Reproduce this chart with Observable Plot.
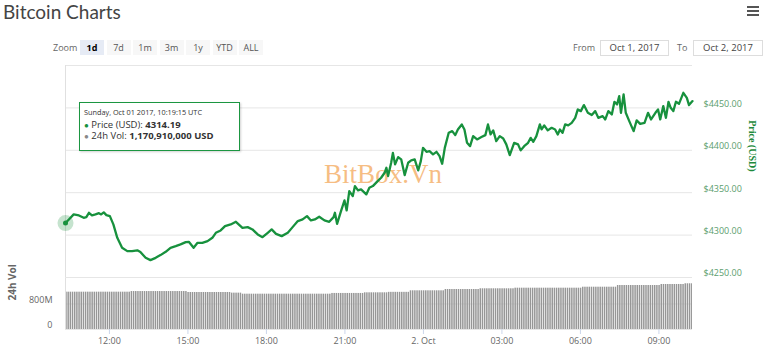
<!DOCTYPE html>
<html><head><meta charset="utf-8">
<script src="https://cdn.jsdelivr.net/npm/d3@7"></script>
<script src="https://cdn.jsdelivr.net/npm/@observablehq/plot@0.6"></script>
<style>
html,body{margin:0;padding:0;background:#fff;}
#wrap{position:relative;width:768px;height:348px;overflow:hidden;font-family:"Open Sans",sans-serif;}
.abs{position:absolute;}
#title{left:3px;top:0px;font-family:Lato,sans-serif;font-size:19px;line-height:normal;color:#444;white-space:nowrap;}
.bar{position:absolute;left:747px;width:12px;height:2px;background:#555;}
.zbtn{position:absolute;top:40px;width:24px;height:15px;line-height:15px;text-align:center;font-size:9px;color:#555;background:#f7f7f7;}
.zbtn.sel{background:#e6ebf5;color:#000;font-weight:bold;}
.lbl{position:absolute;top:40px;height:15px;line-height:15px;font-size:9px;color:#666;}
.dbox{position:absolute;top:40px;height:14px;line-height:14px;border:1px solid #ddd;font-size:9.5px;color:#444;text-align:center;background:#fff;}
#tip{position:absolute;left:79px;top:102px;width:155px;height:43px;border:1px solid #1b9641;background:#fff;box-shadow:1px 1px 2px rgba(0,0,0,0.18);padding:4px 0 0 4px;box-sizing:content-box;}
#tip div{white-space:nowrap;line-height:11.5px;color:#333;}
#tip .h{font-size:7.3px;}
#tip .r{font-size:9.5px;}
#price,#vol{position:absolute;left:0;}
#price{top:55px;}
#vol{top:277px;}
</style></head><body>
<div id="wrap">
  <div id="title" class="abs">Bitcoin Charts</div>
  <div class="bar" style="top:6px"></div><div class="bar" style="top:10px"></div><div class="bar" style="top:14px"></div>
  <div class="lbl" style="left:53px">Zoom</div>
  <div id="zooms"></div>
  <div class="lbl" style="left:573px">From</div>
  <div class="dbox" id="dFrom" style="left:600px;width:67px"></div>
  <div class="lbl" style="left:677px">To</div>
  <div class="dbox" id="dTo" style="left:693px;width:68px"></div>
  <div id="vol"></div>
  <div id="price"></div>
  <div id="tip"></div>
</div>
<script>
// ---------- data ----------
const priceTimes = [
"10-01 10:19:15","10-01 10:27","10-01 10:38","10-01 10:50","10-01 11:01","10-01 11:07","10-01 11:13","10-01 11:20","10-01 11:28","10-01 11:36",
"10-01 11:41","10-01 11:47","10-01 11:53","10-01 12:01","10-01 12:09","10-01 12:18","10-01 12:29","10-01 12:41","10-01 12:52","10-01 13:04",
"10-01 13:11","10-01 13:23","10-01 13:34","10-01 13:46","10-01 13:57","10-01 14:09","10-01 14:20","10-01 14:32","10-01 14:43","10-01 14:55",
"10-01 15:02","10-01 15:13","10-01 15:22","10-01 15:33","10-01 15:45","10-01 15:56","10-01 16:04","10-01 16:15","10-01 16:25","10-01 16:38",
"10-01 16:50","10-01 17:05","10-01 17:17","10-01 17:28","10-01 17:40","10-01 17:51","10-01 18:03","10-01 18:12","10-01 18:22","10-01 18:35",
"10-01 18:49","10-01 19:00","10-01 19:12","10-01 19:23","10-01 19:33","10-01 19:42","10-01 19:51","10-01 20:01","10-01 20:13","10-01 20:24",
"10-01 20:34","10-01 20:37","10-01 20:42","10-01 20:51","10-01 20:59","10-01 21:04","10-01 21:10","10-01 21:18","10-01 21:23","10-01 21:30",
"10-01 21:37","10-01 21:49","10-01 21:56","10-01 22:04","10-01 22:15","10-01 22:23","10-01 22:31","10-01 22:35","10-01 22:39","10-01 22:46",
"10-01 22:50","10-01 22:55","10-01 23:02","10-01 23:09","10-01 23:17","10-01 23:25","10-01 23:32","10-01 23:40","10-01 23:48","10-01 23:54",
"10-01 23:59","10-02 00:07","10-02 00:14","10-02 00:22","10-02 00:30","10-02 00:37","10-02 00:43","10-02 00:49","10-02 00:58","10-02 01:06",
"10-02 01:13","10-02 01:19","10-02 01:28","10-02 01:34","10-02 01:40","10-02 01:47","10-02 01:54","10-02 02:03","10-02 02:13","10-02 02:22",
"10-02 02:28","10-02 02:34","10-02 02:40","10-02 02:47","10-02 02:55","10-02 03:03","10-02 03:10","10-02 03:18","10-02 03:28","10-02 03:37",
"10-02 03:43","10-02 03:51","10-02 04:00","10-02 04:06","10-02 04:12","10-02 04:19","10-02 04:27","10-02 04:31","10-02 04:37","10-02 04:45",
"10-02 04:54","10-02 05:02","10-02 05:08","10-02 05:13","10-02 05:19","10-02 05:25","10-02 05:32","10-02 05:40","10-02 05:48","10-02 05:54",
"10-02 06:01","10-02 06:08","10-02 06:17","10-02 06:26","10-02 06:34","10-02 06:41","10-02 06:51","10-02 06:57","10-02 07:04","10-02 07:12",
"10-02 07:18","10-02 07:24","10-02 07:29","10-02 07:33","10-02 07:39","10-02 07:44","10-02 07:52","10-02 08:02","10-02 08:09","10-02 08:17",
"10-02 08:27","10-02 08:35","10-02 08:42","10-02 08:52","10-02 08:58","10-02 09:03","10-02 09:10","10-02 09:16","10-02 09:22","10-02 09:27",
"10-02 09:33","10-02 09:39","10-02 09:46","10-02 09:56","10-02 10:04","10-02 10:09","10-02 10:17"
];
const prices = [
4314.19,4318.5,4324.4,4323.2,4320.4,4321.2,4326.3,4323.2,4324.4,4325.9,
4324.4,4326.8,4323.6,4322.4,4312.6,4296.8,4285.0,4281.1,4281.1,4282.0,
4280.0,4273.2,4270.5,4273.2,4276.4,4280.3,4285.0,4287.0,4289.0,4291.7,
4292.1,4285.0,4290.9,4290.9,4292.9,4296.8,4302.7,4305.5,4310.6,4312.6,
4315.7,4308.6,4309.4,4306.7,4300.8,4297.6,4302.7,4306.7,4301.5,4298.8,
4302.7,4309.4,4316.5,4318.5,4322.4,4317.3,4318.5,4321.6,4317.3,4315.7,
4321.2,4326.3,4313.3,4328.3,4340.9,4329.1,4351.9,4346.0,4357.8,4352.7,
4353.9,4348.0,4355.8,4357.8,4363.7,4367.6,4373.5,4379.4,4369.6,4385.3,
4397.0,4383.4,4392.0,4389.3,4370.8,4385.3,4388.1,4389.3,4376.3,4387.3,
4402.9,4398.2,4399.0,4395.2,4398.2,4393.2,4384.1,4402.9,4420.6,4422.6,
4417.9,4424.6,4430.5,4424.6,4408.8,4404.9,4416.7,4412.8,4415.6,4417.9,
4430.5,4418.7,4423.5,4410.8,4416.7,4414.0,4407.0,4394.3,4408.8,4407.0,
4399.9,4404.9,4408.8,4414.7,4410.0,4416.7,4430.5,4424.6,4429.4,4423.5,
4426.5,4424.6,4418.7,4424.6,4420.6,4430.5,4429.4,4432.4,4438.3,4448.2,
4446.2,4453.3,4444.2,4441.5,4446.2,4438.3,4440.3,4436.4,4446.2,4442.3,
4457.2,4454.1,4463.9,4444.2,4465.9,4444.2,4434.4,4422.6,4435.3,4431.2,
4432.4,4444.2,4436.4,4444.2,4448.2,4436.4,4452.1,4438.3,4457.2,4450.1,
4446.2,4457.2,4454.8,4467.8,4461.9,4453.3,4458.0
];
// 24h volume, millions USD, one bar every 5 minutes from volStart
const volStart = "10-01 10:19";
const volStepMinutes = 5;
const volumesM = [
1170.91,1170,1170,1170,1170,1170,1170,1170,1170,1170,1170,1170,
1170,1170,1170,1170,1170,1170,1170,1170,1170,1170,1170,1170,
1170,1170,1170,1170,1170,1170,1190,1190,1190,1190,1190,1190,
1190,1190,1190,1190,1190,1190,1190,1190,1190,1190,1190,1190,
1190,1190,1190,1190,1190,1190,1190,1190,1160,1160,1160,1160,
1160,1160,1160,1160,1160,1160,1160,1160,1160,1160,1160,1160,
1160,1160,1160,1160,1140,1140,1140,1140,1140,1107,1107,1107,
1107,1107,1107,1107,1107,1107,1107,1107,1107,1107,1107,1107,
1107,1107,1107,1107,1107,1107,1107,1107,1107,1107,1107,1107,
1107,1107,1107,1107,1107,1107,1107,1107,1107,1107,1107,1107,
1107,1107,1130,1130,1130,1130,1130,1130,1130,1130,1130,1130,
1130,1130,1130,1130,1130,1150,1150,1150,1150,1150,1150,1150,
1150,1150,1150,1150,1165,1165,1165,1165,1165,1165,1165,1165,
1165,1165,1213,1213,1213,1213,1213,1213,1213,1213,1213,1213,
1213,1213,1213,1213,1213,1213,1254,1254,1254,1254,1254,1254,
1254,1254,1254,1254,1254,1254,1254,1254,1254,1254,1276,1276,
1276,1276,1276,1276,1276,1276,1276,1276,1276,1276,1276,1276,
1276,1276,1295,1295,1295,1295,1295,1295,1295,1295,1295,1295,
1295,1295,1295,1295,1295,1295,1295,1295,1295,1295,1295,1295,
1295,1295,1295,1295,1295,1295,1295,1295,1295,1326,1326,1326,
1326,1326,1326,1326,1326,1326,1326,1326,1326,1326,1326,1326,
1326,1379,1379,1379,1379,1379,1379,1379,1379,1379,1379,1379,
1379,1379,1379,1379,1379,1379,1379,1379,1379,1411,1411,1411,
1411,1411,1411,1411,1411,1411,1411,1411,1433,1433,1433,1433
];
const domainEnd = "10-02 10:17";
const priceTicks = [4250, 4300, 4350, 4400, 4450];
const priceGrid = [4250, 4300, 4350, 4400, 4450, 4500];
const volTicksM = [0, 800];
const volTickLabels = ["0", "800M"];
const xTickTimes = ["10-01 12:00","10-01 15:00","10-01 18:00","10-01 21:00","10-02 00:00","10-02 03:00","10-02 06:00","10-02 09:00"];
const xTickLabels = ["12:00","15:00","18:00","21:00","2. Oct","03:00","06:00","09:00"];
const zoomButtons = ["1d","7d","1m","3m","1y","YTD","ALL"];
const rangeFrom = "Oct 1, 2017";
const rangeTo = "Oct 2, 2017";
const watermark = "BitBox.Vn";

// ---------- build ----------
const pSec = d3.utcParse("%Y-%m-%d %H:%M:%S");
const parse = s => pSec("2017-" + s + (s.length === 11 ? ":00" : ""));
const green = "#17913d";

const priceData = priceTimes.map((t, i) => ({t: parse(t), p: prices[i]}));
const xStart = priceData[0].t, xEnd = parse(domainEnd);
const xDomain = [xStart, xEnd];

const vStart = parse(volStart);
const volData = volumesM.map((v, i) => ({
  t1: d3.utcMinute.offset(vStart, i * volStepMinutes),
  t2: d3.utcMinute.offset(vStart, (i + 1) * volStepMinutes),
  v: v * 1e6
})).filter(d => d.t1 < xEnd);

const xTicks = xTickTimes.map(parse);
const xLabelMap = new Map(xTicks.map((d, i) => [+d, xTickLabels[i]]));
const volTicks = volTicksM.map(d => d * 1e6);
const volLabelMap = new Map(volTicks.map((d, i) => [d, volTickLabels[i]]));

const pricePlot = Plot.plot({
  width: 768, height: 223,
  marginTop: 10, marginBottom: 1, marginLeft: 65, marginRight: 76,
  style: {background: "transparent", fontFamily: "Open Sans", fontSize: "9px", overflow: "visible"},
  x: {type: "utc", domain: xDomain, axis: null},
  y: {domain: [4250, 4500], axis: null},
  marks: [
    Plot.ruleY(priceGrid, {stroke: "#e6e6e6"}),
    Plot.ruleX([xStart], {stroke: "#e0e0e0"}),
    Plot.text([watermark], {frameAnchor: "middle", dx: 4, dy: 3, fontSize: 27, fontFamily: "Liberation Serif", fill: "#f3a85a", fillOpacity: 0.75}),
    Plot.axisY(priceTicks, {anchor: "right", tickSize: 0, tickPadding: 11, dy: -4, tickFormat: d => "$" + d.toFixed(2), color: "#5b9e6e", label: null}),
    Plot.text(["Price (USD)"], {frameAnchor: "right", dx: 60, rotate: 90, fontSize: 10, fontWeight: "bold", fontFamily: "Liberation Serif", fill: "#1e8a3c"}),
    Plot.line(priceData, {x: "t", y: "p", stroke: green, strokeWidth: 2.3, strokeLinejoin: "round"}),
    Plot.dot([priceData[0]], {x: "t", y: "p", r: 8, fill: green, fillOpacity: 0.25, stroke: null}),
    Plot.dot([priceData[0]], {x: "t", y: "p", r: 2.5, fill: green, stroke: null})
  ]
});
document.getElementById("price").appendChild(pricePlot);

const volPlot = Plot.plot({
  width: 768, height: 71,
  marginTop: 0, marginBottom: 19, marginLeft: 65, marginRight: 76,
  style: {background: "transparent", fontFamily: "Open Sans", fontSize: "9px", overflow: "visible"},
  x: {type: "utc", domain: xDomain, axis: null},
  y: {domain: [0, 1630e6], axis: null},
  marks: [
    Plot.ruleY(volTicks, {stroke: "#e6e6e6"}),
    Plot.rectY(volData, {x1: "t1", x2: "t2", y: "v", fill: "#969696", insetLeft: 0.35, insetRight: 0.35, clip: true}),
    Plot.ruleX([xStart], {stroke: "#e0e0e0"}),
    Plot.axisY(volTicks, {anchor: "left", tickSize: 0, tickPadding: 13, dy: -4, tickFormat: d => volLabelMap.get(d), color: "#666", label: null}),
    Plot.axisX(xTicks, {anchor: "bottom", tickSize: 5, tickPadding: 3, tickFormat: d => xLabelMap.get(+d), stroke: "#ccd6eb", fill: "#666", label: null}),
    Plot.text(["24h Vol"], {frameAnchor: "left", dx: -53, dy: -3, rotate: -90, fontSize: 10, fontWeight: "bold", fill: "#666"})
  ]
});
document.getElementById("vol").appendChild(volPlot);

// ---------- html chrome ----------
const zc = document.getElementById("zooms");
zoomButtons.forEach((b, i) => {
  const el = document.createElement("div");
  el.className = "zbtn" + (i === 0 ? " sel" : "");
  el.style.left = (80 + i * 26.5) + "px";
  el.textContent = b;
  zc.appendChild(el);
});
document.getElementById("dFrom").textContent = rangeFrom;
document.getElementById("dTo").textContent = rangeTo;

const tip = document.getElementById("tip");
const fmtHead = d3.utcFormat("%A, %b %d %Y, %H:%M:%S UTC");
const h = document.createElement("div"); h.className = "h"; h.textContent = fmtHead(xStart); tip.appendChild(h);
const r1 = document.createElement("div"); r1.className = "r";
r1.innerHTML = '<span style="color:' + green + ';font-size:8px">\u25CF</span> Price (USD): <b>' + prices[0].toFixed(2) + '</b>';
tip.appendChild(r1);
const r2 = document.createElement("div"); r2.className = "r";
r2.innerHTML = '<span style="color:#888;font-size:8px">\u25CF</span> 24h Vol: <b>' + d3.format(",")(Math.round(volumesM[0] * 1e6)) + ' USD</b>';
tip.appendChild(r2);
</script>
</body></html>
